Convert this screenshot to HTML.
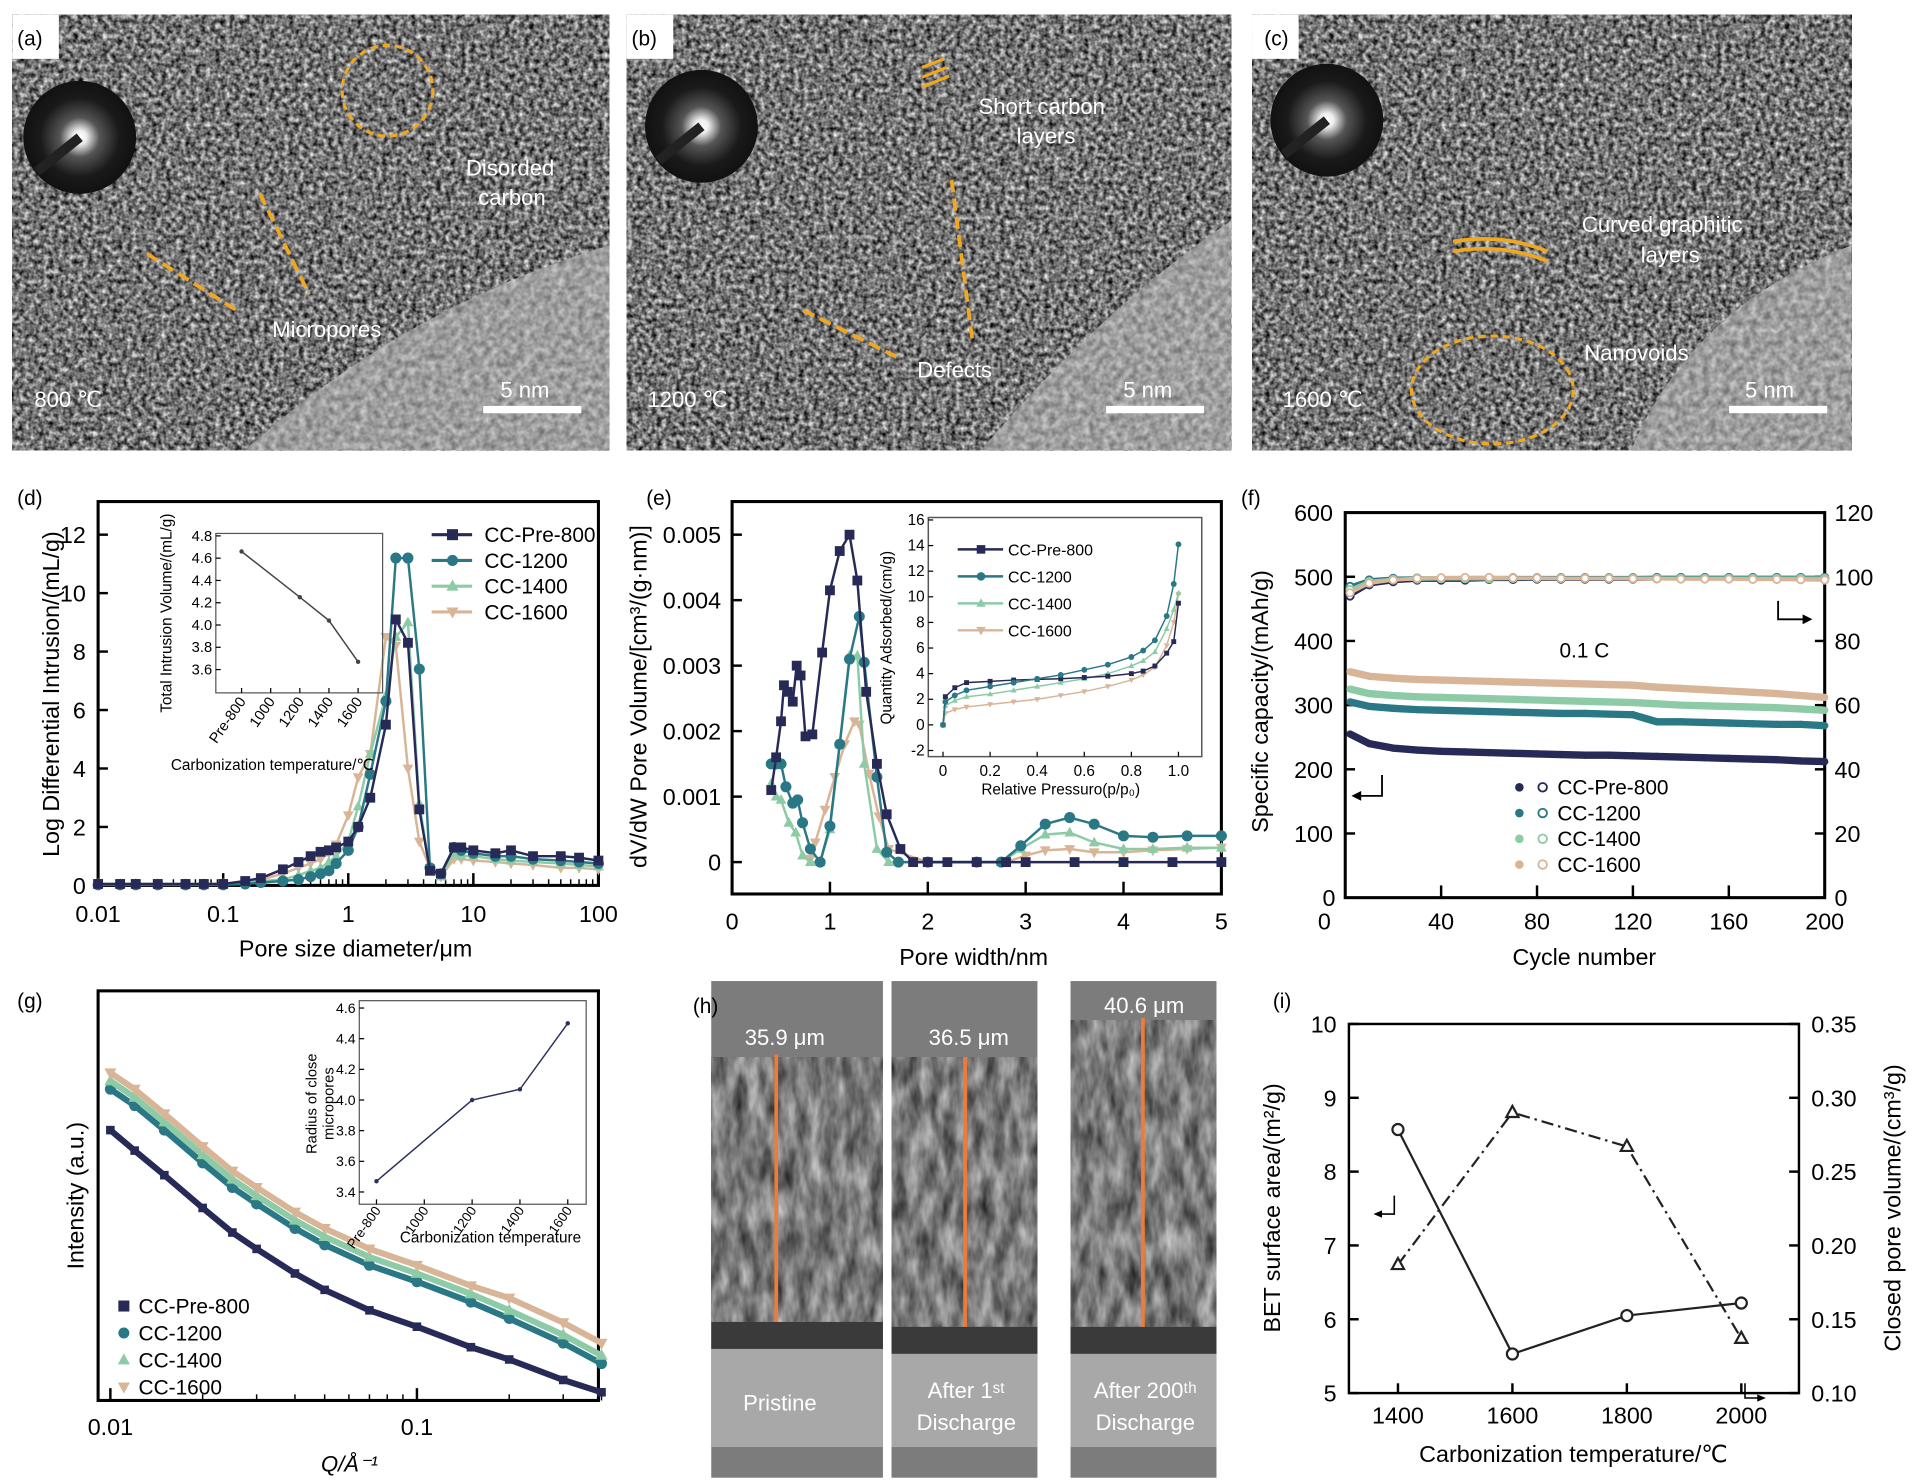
<!DOCTYPE html>
<html><head><meta charset="utf-8">
<style>
html,body{margin:0;padding:0;background:#fff;}
svg{display:block;font-family:"Liberation Sans",Arial,sans-serif;}
</style></head>
<body>
<svg id="fig" width="1913" height="1482" viewBox="0 0 1560 1208.5" preserveAspectRatio="none" xmlns="http://www.w3.org/2000/svg">
<defs>
<filter id="tem" x="0" y="0" width="100%" height="100%" color-interpolation-filters="sRGB">
<feTurbulence type="fractalNoise" baseFrequency="0.25" numOctaves="2" seed="3"/>
<feColorMatrix type="matrix" values="1.25 0 0 0 -0.17  1.25 0 0 0 -0.17  1.25 0 0 0 -0.17  0 0 0 0 1"/>
</filter>
<filter id="tem2" x="0" y="0" width="100%" height="100%" color-interpolation-filters="sRGB">
<feTurbulence type="fractalNoise" baseFrequency="0.18" numOctaves="2" seed="9"/>
<feColorMatrix type="matrix" values="0.5 0 0 0 0.37  0.5 0 0 0 0.37  0.5 0 0 0 0.37  0 0 0 0 1"/>
</filter>
<filter id="sem" x="0" y="0" width="100%" height="100%" color-interpolation-filters="sRGB">
<feTurbulence type="fractalNoise" baseFrequency="0.1 0.035" numOctaves="3" seed="7"/>
<feColorMatrix type="matrix" values="0.8 0 0 0 0.08  0.8 0 0 0 0.08  0.8 0 0 0 0.08  0 0 0 0 1"/>
</filter>
<radialGradient id="diff"><stop offset="0" stop-color="#fff"/><stop offset="0.12" stop-color="#eee"/><stop offset="0.35" stop-color="#555"/><stop offset="0.7" stop-color="#1a1a1a"/><stop offset="1" stop-color="#111"/></radialGradient>
<clipPath id="clipA"><path d="M200,367 Q330,250 497,200 L497,367 Z"/></clipPath>
<clipPath id="clipB"><path d="M800,367 Q900,250 1004,180 L1004,367 Z"/></clipPath>
<clipPath id="clipC"><path d="M1330,367 Q1380,250 1510,200 L1510,367 Z"/></clipPath>
</defs>

<!-- TEM panels -->
<g>
<rect x="10" y="12" width="487" height="355" filter="url(#tem)"/>
<g clip-path="url(#clipA)"><rect x="10" y="12" width="487" height="355" filter="url(#tem2)"/></g>
<circle cx="65" cy="112" r="46" fill="url(#diff)"/>
<line x1="65" y1="112" x2="30" y2="140" stroke="#222" stroke-width="8"/>
<rect x="10" y="12" width="38" height="36" fill="#fff"/>
<text x="14" y="37" font-size="17">(a)</text>
<circle cx="316" cy="74" r="37" fill="none" stroke="#f0a820" stroke-width="2.5" stroke-dasharray="6,4"/>
<line x1="212" y1="158" x2="252" y2="240" stroke="#f0a820" stroke-width="3" stroke-dasharray="10,5"/>
<line x1="120" y1="207" x2="196" y2="255" stroke="#f0a820" stroke-width="3" stroke-dasharray="10,5"/>
<text x="380" y="143" font-size="18" fill="#fff">Disorded</text>
<text x="390" y="167" font-size="18" fill="#fff">carbon</text>
<text x="222" y="275" font-size="18" fill="#fff">Micropores</text>
<text x="28" y="332" font-size="18" fill="#fff">800 ℃</text>
<line x1="394" y1="334" x2="474" y2="334" stroke="#fff" stroke-width="6"/>
<text x="408" y="324" font-size="18" fill="#fff">5 nm</text>
</g>
<g>
<rect x="511" y="12" width="493" height="355" filter="url(#tem)"/>
<g clip-path="url(#clipB)"><rect x="511" y="12" width="493" height="355" filter="url(#tem2)"/></g>
<circle cx="572" cy="103" r="46" fill="url(#diff)"/>
<line x1="572" y1="103" x2="537" y2="131" stroke="#222" stroke-width="8"/>
<rect x="511" y="12" width="38" height="36" fill="#fff"/>
<text x="515" y="37" font-size="17">(b)</text>
<text x="798" y="93" font-size="18" fill="#fff">Short carbon</text>
<text x="829" y="117" font-size="18" fill="#fff">layers</text>
<path d="M752,55 L770,48 M752,63 L772,55 M752,71 L774,62" stroke="#f0a820" stroke-width="2.5"/>
<line x1="776" y1="147" x2="793" y2="278" stroke="#f0a820" stroke-width="3" stroke-dasharray="10,5"/>
<line x1="655" y1="253" x2="735" y2="293" stroke="#f0a820" stroke-width="3" stroke-dasharray="10,5"/>
<text x="748" y="308" font-size="18" fill="#fff">Defects</text>
<text x="528" y="332" font-size="18" fill="#fff">1200 ℃</text>
<line x1="902" y1="334" x2="982" y2="334" stroke="#fff" stroke-width="6"/>
<text x="916" y="324" font-size="18" fill="#fff">5 nm</text>
</g>
<g>
<rect x="1021" y="12" width="489" height="355" filter="url(#tem)"/>
<g clip-path="url(#clipC)"><rect x="1021" y="12" width="489" height="355" filter="url(#tem2)"/></g>
<circle cx="1082" cy="98" r="46" fill="url(#diff)"/>
<line x1="1082" y1="98" x2="1047" y2="126" stroke="#222" stroke-width="8"/>
<rect x="1021" y="12" width="38" height="36" fill="#fff"/>
<text x="1031" y="37" font-size="17">(c)</text>
<text x="1290" y="189" font-size="18" fill="#fff">Curved graphitic</text>
<text x="1338" y="214" font-size="18" fill="#fff">layers</text>
<path d="M1185,197 Q1225,190 1262,205 M1185,205 Q1225,198 1262,213" fill="none" stroke="#f0a820" stroke-width="3"/>
<ellipse cx="1217" cy="318" rx="66" ry="44" fill="none" stroke="#f0a820" stroke-width="2.5" stroke-dasharray="6,4"/>
<text x="1292" y="294" font-size="18" fill="#fff">Nanovoids</text>
<text x="1046" y="332" font-size="18" fill="#fff">1600 ℃</text>
<line x1="1410" y1="334" x2="1490" y2="334" stroke="#fff" stroke-width="6"/>
<text x="1423" y="324" font-size="18" fill="#fff">5 nm</text>
</g>

<!-- SEM panel h -->
<g>
<g>
<rect x="580" y="800" width="140" height="405" fill="#7c7c7c"/>
<rect x="580" y="862" width="140" height="216" filter="url(#sem)"/>
<rect x="580" y="1078" width="140" height="22" fill="#3a3a3a"/>
<rect x="580" y="1100" width="140" height="80" fill="#a8a8a8"/>
<line x1="633" y1="860" x2="633" y2="1078" stroke="#f07a3a" stroke-width="3"/>
<text x="640" y="852" font-size="18" fill="#fff" text-anchor="middle">35.9 μm</text>
<text x="636" y="1150" font-size="18" fill="#fff" text-anchor="middle">Pristine</text>
</g>
<g>
<rect x="727" y="800" width="119" height="405" fill="#7c7c7c"/>
<rect x="727" y="862" width="119" height="220" filter="url(#sem)"/>
<rect x="727" y="1082" width="119" height="22" fill="#3a3a3a"/>
<rect x="727" y="1104" width="119" height="76" fill="#a8a8a8"/>
<line x1="787" y1="862" x2="787" y2="1082" stroke="#f07a3a" stroke-width="3"/>
<text x="790" y="852" font-size="18" fill="#fff" text-anchor="middle">36.5 μm</text>
<text x="788" y="1140" font-size="18" fill="#fff" text-anchor="middle">After 1ˢᵗ</text>
<text x="788" y="1166" font-size="18" fill="#fff" text-anchor="middle">Discharge</text>
</g>
<g>
<rect x="873" y="800" width="119" height="405" fill="#7c7c7c"/>
<rect x="873" y="832" width="119" height="250" filter="url(#sem)"/>
<rect x="873" y="1082" width="119" height="22" fill="#3a3a3a"/>
<rect x="873" y="1104" width="119" height="76" fill="#a8a8a8"/>
<line x1="932" y1="830" x2="932" y2="1082" stroke="#f07a3a" stroke-width="3"/>
<text x="933" y="826" font-size="18" fill="#fff" text-anchor="middle">40.6 μm</text>
<text x="934" y="1140" font-size="18" fill="#fff" text-anchor="middle">After 200ᵗʰ</text>
<text x="934" y="1166" font-size="18" fill="#fff" text-anchor="middle">Discharge</text>
</g>
<text x="565" y="826" font-size="17">(h)</text>
</g>
<g id="charts"></g>
</svg>
<script>
// ---- data: panel d ----
const dX=[0.01,0.015,0.02,0.03,0.05,0.07,0.1,0.15,0.2,0.3,0.4,0.5,0.6,0.7,0.8,1,1.2,1.5,2,2.4,3,3.7,4.5,5.5,7,8,10,15,20,30,50,70,100];
const dPre=[0.05,0.05,0.05,0.05,0.05,0.05,0.05,0.15,0.25,0.55,0.8,1.0,1.15,1.2,1.3,1.5,2.0,3.0,5.5,9.1,8.3,2.6,0.5,0.4,1.3,1.3,1.2,1.1,1.2,1.0,1.0,0.95,0.85];
const d1200=[0.02,0.02,0.02,0.02,0.02,0.02,0.02,0.05,0.1,0.15,0.2,0.3,0.4,0.5,0.75,1.2,2.0,3.8,6.3,11.2,11.2,7.4,0.6,0.4,1.3,1.2,1.1,1.0,1.0,0.9,0.85,0.8,0.75];
const d1400=[0.05,0.05,0.05,0.05,0.05,0.05,0.05,0.1,0.15,0.2,0.35,0.5,0.6,0.8,1.0,1.5,2.7,4.5,6.5,8.5,9.0,2.8,0.5,0.3,1.1,1.0,1.0,0.9,0.85,0.8,0.75,0.7,0.65];
const d1600=[0.05,0.05,0.05,0.05,0.05,0.05,0.05,0.1,0.2,0.4,0.6,0.75,0.9,1.1,1.4,2.4,3.7,4.5,8.5,8.2,4.0,1.5,0.6,0.3,0.9,0.9,0.85,0.8,0.75,0.7,0.6,0.6,0.55];
const dInsetX=[800,1200,1400,1600];
const dInsetY=[4.66,4.25,4.04,3.67];
const dYTicks=[0,2,4,6,8,10,12];
const dXTicks=[0.01,0.1,1,10,100];
// ---- data: panel e ----
const ePreX=[0.4,0.45,0.5,0.53,0.57,0.62,0.66,0.7,0.75,0.82,0.92,1.0,1.1,1.2,1.28,1.37,1.48,1.58,1.72,1.85,2.0,2.2,2.5,2.8,3.0,3.5,4.0,4.5,5.0];
const ePreY=[1.1,1.6,2.15,2.7,2.6,2.45,3.0,2.85,1.92,1.95,3.2,4.15,4.75,5.0,4.3,2.6,1.5,0.73,0.2,0,0,0,0,0,0,0,0,0,0];
const e1200X=[0.4,0.45,0.5,0.55,0.62,0.67,0.72,0.8,0.9,1.0,1.1,1.2,1.3,1.35,1.48,1.58,1.7,2.0,2.5,2.75,2.95,3.2,3.45,3.7,4.0,4.3,4.65,5.0];
const e1200Y=[1.5,1.5,1.5,1.15,0.9,0.95,0.6,0.2,0,0.55,1.8,3.1,3.75,3.05,1.3,0.15,0,0,0,0,0.25,0.58,0.68,0.58,0.4,0.38,0.4,0.4];
const e1400X=[0.4,0.45,0.5,0.58,0.65,0.72,0.8,0.9,1.0,1.1,1.2,1.28,1.35,1.48,1.6,2.0,2.5,2.75,2.95,3.2,3.45,3.7,4.0,4.3,4.65,5.0];
const e1400Y=[1.2,1.0,0.95,0.6,0.45,0.1,0,0,0.5,1.8,3.15,3.15,1.5,0.2,0,0,0,0,0.2,0.42,0.45,0.3,0.2,0.2,0.22,0.22];
const e1600X=[0.8,0.85,0.95,1.05,1.15,1.25,1.3,1.4,1.5,1.6,2.0,2.5,2.8,3.0,3.2,3.45,3.7,4.0,4.3,4.65,5.0];
const e1600Y=[0.05,0.3,0.8,1.3,1.8,2.15,2.1,1.35,0.7,0.2,0,0,0,0.1,0.18,0.2,0.15,0.15,0.18,0.2,0.22];
const eYTicks=[0,0.001,0.002,0.003,0.004,0.005];
const eYLabels=["0","0.001","0.002","0.003","0.004","0.005"];
const eXTicks=[0,1,2,3,4,5];
const eInP=[0,0.01,0.05,0.1,0.2,0.3,0.4,0.5,0.6,0.7,0.8,0.85,0.9,0.95,0.98,1.0];
const eInPre=[0,2.2,2.9,3.3,3.4,3.5,3.55,3.6,3.7,3.8,4.0,4.2,4.6,5.6,6.5,9.5];
const eIn1200=[0,1.8,2.3,2.7,3.0,3.3,3.6,3.9,4.3,4.7,5.3,5.8,6.6,8.5,11,14.1];
const eIn1400=[0,1.5,1.9,2.2,2.4,2.7,3.0,3.3,3.6,4.0,4.6,5.0,5.7,7.5,9,10.3];
const eIn1600=[0,0.9,1.2,1.4,1.6,1.8,2.0,2.3,2.6,3.0,3.5,3.9,4.5,6.2,8,10.2];
const eInYTicks=[-2,0,2,4,6,8,10,12,14,16];
const eInXTicks=[0,0.2,0.4,0.6,0.8,1.0];
// ---- data: panel f ----
const fCycles=[2,10,20,30,40,50,60,70,80,90,100,110,120,130,140,150,160,170,180,190,200];
const fPre=[255,240,233,230,228,227,226,225,224,223,222,222,221,220,219,218,217,216,215,213,212];
const f1200=[305,298,295,293,292,291,290,289,288,287,287,286,285,274,274,273,272,271,270,270,268];
const f1400=[325,318,315,313,312,311,310,309,308,307,306,305,304,302,300,299,298,297,296,294,292];
const f1600=[352,345,342,340,339,338,337,336,335,334,333,332,331,328,326,324,322,320,318,315,312];
const fCEPre=[94,97.5,98.5,99,99,99,99.2,99.2,99.3,99.3,99.3,99.3,99.3,99.4,99.4,99.4,99.4,99.4,99.4,99.4,99.4];
const fCE1200=[97,99,99.5,99.6,99.6,99.6,99.7,99.7,99.7,99.7,99.7,99.7,99.7,99.8,99.8,99.8,99.8,99.8,99.8,99.8,99.8];
const fCE1400=[96,98.5,99.2,99.3,99.4,99.4,99.4,99.5,99.5,99.5,99.5,99.5,99.5,99.5,99.5,99.5,99.5,99.5,99.5,99.5,99.5];
const fCE1600=[95,98,99,99.5,99.7,99.8,99.8,99.6,99.6,99.5,99.5,99.5,99.4,99.4,99.3,99.3,99.3,99.2,99.2,99.1,99];
const fYTicks=[100,200,300,400,500,600];
const fY2Ticks=[0,20,40,60,80,100,120];
const fXTicks=[0,40,80,120,160,200];
// ---- data: panel g ----
const gQ=[0.01,0.012,0.015,0.02,0.025,0.03,0.04,0.05,0.07,0.1,0.15,0.2,0.3,0.4];
const gPre=[66,61,55,47,41,37,31,27,22,18,13,10,5,2];
const g1200=[76,72,66,58,52,48,42,38,33,29,24,20,14,9];
const g1400=[78,74,68,60,54,50,44,40,35,31,26,22,16,11];
const g1600=[80,76,70,62,56,52,46,42,37,33,28,25,19,14];
const gInX=[800,1200,1400,1600];
const gInY=[3.47,4.0,4.07,4.5];
const gInYTicks=[3.4,3.6,3.8,4.0,4.2,4.4,4.6];
// ---- data: panel i ----
const iTemp=[1400,1600,1800,2000];
const iBET=[8.57,5.53,6.05,6.22];
const iClosed=[0.187,0.29,0.267,0.137];
const iYTicks=[5,6,7,8,9,10];
const iY2Ticks=[0.10,0.15,0.20,0.25,0.30,0.35];

const NS="http://www.w3.org/2000/svg";
const root=document.getElementById('charts');
function mk(parent,tag,attrs,text){const e=document.createElementNS(NS,tag);for(const k in attrs)e.setAttribute(k,attrs[k]);if(text!==undefined)e.textContent=text;parent.appendChild(e);return e;}
function lin(d0,d1,r0,r1){return v=>r0+(v-d0)/(d1-d0)*(r1-r0);}
function logs(d0,d1,r0,r1){return v=>r0+(Math.log10(v)-Math.log10(d0))/(Math.log10(d1)-Math.log10(d0))*(r1-r0);}
function marker(g,type,x,y,s,fill,stroke){
  let e;
  if(type==='sq') e=mk(g,'rect',{x:x-s,y:y-s,width:2*s,height:2*s,fill:fill,stroke:stroke});
  else if(type==='ci') e=mk(g,'circle',{cx:x,cy:y,r:s,fill:fill,stroke:stroke});
  else if(type==='tu') e=mk(g,'polygon',{points:`${x},${y-s*1.2} ${x-s*1.1},${y+s*0.8} ${x+s*1.1},${y+s*0.8}`,fill:fill,stroke:stroke});
  else e=mk(g,'polygon',{points:`${x},${y+s*1.2} ${x-s*1.1},${y-s*0.8} ${x+s*1.1},${y-s*0.8}`,fill:fill,stroke:stroke});
  
  
  return e;
}
function series(parent,xs,ys,sx,sy,color,type,s,name,sw){
  const g=mk(parent,'g',{});
  
  
  const pl=mk(g,'polyline',{points:xs.map((x,i)=>sx(x)+','+sy(ys[i])).join(' '),fill:'none',stroke:color,'stroke-width':sw||2});
  
  
  if(type) xs.forEach((x,i)=>marker(g,type,sx(x),sy(ys[i]),s,color,'none'));
  return g;
}
function box(g,x0,y0,x1,y1,w,c){const r=mk(g,'rect',{x:x0,y:y0,width:x1-x0,height:y1-y0,fill:'none',stroke:c||'#000','stroke-width':w||2.5});}
function txt(g,x,y,s,size,anchor,name,extra){const t=mk(g,'text',Object.assign({x:x,y:y,'font-size':size,'text-anchor':anchor||'middle'},extra||{}),s);return t;}
function tk(g,x1,y1,x2,y2,w){const l=mk(g,'line',{x1:x1,y1:y1,x2:x2,y2:y2,stroke:'#000','stroke-width':w||2});}
const C={pre:'#272a57',c12:'#2a7785',c14:'#8ccba6',c16:'#d8b596'};

// ===== Panel d =====
(function(){
  const g=mk(root,'g',{});
  
  
  txt(g,14,412,'(d)',17,'start','panel-label-d');
  const sx=logs(0.01,100,80,488), sy=lin(0,12,722,436);
  box(g,80,409,488,722);
  dYTicks.forEach(v=>{tk(g,80,sy(v),88,sy(v));txt(g,70,sy(v)+7,String(v),19,'end','y-tick-label');});
  dXTicks.forEach(v=>{tk(g,sx(v),722,sx(v),712);txt(g,sx(v),752,String(v),19,'middle','x-tick-label');});
  for(let d=-2;d<2;d++)for(let m=2;m<10;m++){const x=sx(m*Math.pow(10,d));tk(g,x,722,x,717,1.2);}
  txt(g,290,780,'Pore size diameter/μm',19,'middle','x-axis-title');
  txt(g,0,0,'Log Differential Intrusion/(mL/g)',19,'middle','y-axis-title',{transform:'translate(48,566) rotate(-90)'});
  series(g,dX,d1600,sx,sy,C.c16,'td',4,'series-cc-1600');
  series(g,dX,d1400,sx,sy,C.c14,'tu',4,'series-cc-1400');
  series(g,dX,d1200,sx,sy,C.c12,'ci',4.5,'series-cc-1200');
  series(g,dX,dPre,sx,sy,C.pre,'sq',4,'series-cc-pre-800');
  const names=['CC-Pre-800','CC-1200','CC-1400','CC-1600'],cols=[C.pre,C.c12,C.c14,C.c16],ty=['sq','ci','tu','td'];
  names.forEach((n,i)=>{const y=436+i*21;const lg=mk(g,'g',{});
    mk(lg,'line',{x1:352,y1:y,x2:385,y2:y,stroke:cols[i],'stroke-width':2.5});marker(lg,ty[i],369,y,4.5,cols[i],'none');
    txt(lg,395,y+6,n,17,'start','legend-label');});
  const ig=mk(g,'g',{});
  
  
  const ix=lin(800,1600,197,292), iy=lin(3.6,4.8,546,437);
  box(ig,176,435,312,565,1,'#555');
  [3.6,3.8,4.0,4.2,4.4,4.6,4.8].forEach(v=>{tk(ig,176,iy(v),180,iy(v),1);txt(ig,173,iy(v)+4,v.toFixed(1),12,'end','inset-y-tick');});
  [800,1000,1200,1400,1600].forEach((v,i)=>{tk(ig,ix(v),565,ix(v),561,1);txt(ig,0,0,i===0?'Pre-800':String(v),12,'end','inset-x-tick',{transform:`translate(${ix(v)+4},${572}) rotate(-55)`});});
  series(ig,dInsetX,dInsetY,ix,iy,'#444','ci',1.8,'inset-series',1.2);
  txt(ig,222,628,'Carbonization temperature/℃',12.5,'middle','inset-x-title');
  txt(ig,0,0,'Total Intrusion Volume/(mL/g)',12.5,'middle','inset-y-title',{transform:'translate(140,500) rotate(-90)'});
})();

// ===== Panel e =====
(function(){
  const g=mk(root,'g',{});
  
  
  txt(g,527,412,'(e)',17,'start','panel-label-e');
  const sx=lin(0,5,597,996), sy=lin(0,0.005,703,436);
  box(g,597,409,996,729);
  eYTicks.forEach((v,i)=>{tk(g,597,sy(v),605,sy(v));txt(g,588,sy(v)+7,eYLabels[i],19,'end','y-tick-label');});
  eXTicks.forEach(v=>{tk(g,sx(v),729,sx(v),719);txt(g,sx(v),758,String(v),19,'middle','x-tick-label');});
  txt(g,794,787,'Pore width/nm',19,'middle','x-axis-title');
  txt(g,0,0,'dV/dW Pore Volume/[cm³/(g·nm)]',19,'middle','y-axis-title',{transform:'translate(527,568) rotate(-90)'});
  const f=a=>a.map(v=>v*0.001);
  series(g,e1600X,f(e1600Y),sx,sy,C.c16,'td',4,'series-cc-1600');
  series(g,e1400X,f(e1400Y),sx,sy,C.c14,'tu',4,'series-cc-1400');
  series(g,e1200X,f(e1200Y),sx,sy,C.c12,'ci',4.5,'series-cc-1200');
  series(g,ePreX,f(ePreY),sx,sy,C.pre,'sq',4,'series-cc-pre-800');
  const ig=mk(g,'g',{});
  
  
  const ix=lin(0,1,769,961), iy=lin(-2,16,612,424);
  box(ig,757,422,980,617,1.2,'#555');
  eInYTicks.forEach(v=>{tk(ig,757,iy(v),761,iy(v),1);txt(ig,754,iy(v)+4,String(v),12.5,'end','inset-y-tick');});
  eInXTicks.forEach(v=>{tk(ig,ix(v),617,ix(v),613,1);txt(ig,ix(v),633,v===0?'0':v.toFixed(1),12.5,'middle','inset-x-tick');});
  txt(ig,865,648,'Relative Pressuro(p/p₀)',12.5,'middle','inset-x-title');
  txt(ig,0,0,'Quantity Adsorbed/(cm/g)',12.5,'middle','inset-y-title',{transform:'translate(727,520) rotate(-90)'});
  series(ig,eInP,eIn1600,ix,iy,C.c16,'td',2.2,'inset-cc-1600',1.2);
  series(ig,eInP,eIn1400,ix,iy,C.c14,'tu',2.2,'inset-cc-1400',1.2);
  series(ig,eInP,eInPre,ix,iy,C.pre,'sq',2,'inset-cc-pre-800',1.2);
  series(ig,eInP,eIn1200,ix,iy,C.c12,'ci',2.4,'inset-cc-1200',1.2);
  const names=['CC-Pre-800','CC-1200','CC-1400','CC-1600'],cols=[C.pre,C.c12,C.c14,C.c16],ty=['sq','ci','tu','td'];
  names.forEach((n,i)=>{const y=448+i*22;const lg=mk(ig,'g',{});
    mk(lg,'line',{x1:781,y1:y,x2:818,y2:y,stroke:cols[i],'stroke-width':2});marker(lg,ty[i],800,y,3.5,cols[i],'none');
    txt(lg,822,y+5,n,13,'start','legend-label');});
})();

// ===== Panel f =====
(function(){
  const g=mk(root,'g',{});
  
  
  txt(g,1012,412,'(f)',17,'start','panel-label-f');
  const sx=lin(0,200,1097,1488), sy=lin(0,600,732,418), sy2=lin(0,120,732,418);
  box(g,1097,418,1488,732);
  txt(g,1089,739,'0',19,'end','y-tick-label');
  fYTicks.forEach(v=>{tk(g,1097,sy(v),1105,sy(v));txt(g,1087,sy(v)+7,String(v),19,'end','y-tick-label');});
  fY2Ticks.forEach(v=>{tk(g,1488,sy2(v),1480,sy2(v));txt(g,1496,sy2(v)+7,String(v),19,'start','y2-tick-label');});
  fXTicks.forEach(v=>{if(v>0)tk(g,sx(v),732,sx(v),722);txt(g,v===0?1080:sx(v),758,String(v),19,'middle','x-tick-label');});
  txt(g,1292,787,'Cycle number',19,'middle','x-axis-title');
  txt(g,0,0,'Specific capacity/(mAh/g)',19,'middle','y-axis-title',{transform:'translate(1034,572) rotate(-90)'});
  const sets=[[fPre,fCEPre,C.pre,'cc-pre-800'],[f1200,fCE1200,C.c12,'cc-1200'],[f1400,fCE1400,C.c14,'cc-1400'],[f1600,fCE1600,C.c16,'cc-1600']];
  sets.forEach(s=>{series(g,fCycles,s[0],sx,sy,s[2],'ci',3,'capacity-'+s[3],6);});
  sets.forEach(s=>{const gg=series(g,fCycles,s[1],sx,sy2,s[2],null,0,'ce-'+s[3],3);
    fCycles.forEach((c,i)=>{const m=marker(gg,'ci',sx(c),sy2(s[1][i]),3,'#fff',s[2]);m.setAttribute('stroke-width','1.5');});});
  txt(g,1292,536,'0.1 C',17,'middle','rate-annotation');
  mk(g,'path',{d:'M1450,490 L1450,505 L1476,505',fill:'none',stroke:'#000','stroke-width':1.5});
  mk(g,'polygon',{points:'1478,505 1470,501 1470,509',fill:'#000'});
  mk(g,'path',{d:'M1127,632 L1127,649 L1104,649',fill:'none',stroke:'#000','stroke-width':1.5});
  mk(g,'polygon',{points:'1102,649 1110,645 1110,653',fill:'#000'});
  const names=['CC-Pre-800','CC-1200','CC-1400','CC-1600'],cols=[C.pre,C.c12,C.c14,C.c16];
  names.forEach((n,i)=>{const y=642+i*21;const lg=mk(g,'g',{});
    marker(lg,'ci',1239,y,3.5,cols[i],'none');const o=marker(lg,'ci',1258,y,3.5,'#fff',cols[i]);o.setAttribute('stroke-width','1.5');
    txt(lg,1270,y+6,n,17,'start','legend-label');});
})();

// ===== Panel g =====
(function(){
  const g=mk(root,'g',{});
  
  
  txt(g,14,822,'(g)',17,'start','panel-label-g');
  const sx=logs(0.01,0.1,90,340), sy=lin(0,100,1142,808);
  box(g,80,808,488,1142);
  [0.01,0.1].forEach(v=>{tk(g,sx(v),1142,sx(v),1132);txt(g,sx(v),1170,String(v),19,'middle','x-tick-label');});
  [0.02,0.03,0.04,0.05,0.06,0.07,0.08,0.09,0.2,0.3,0.4].forEach(v=>tk(g,sx(v),1142,sx(v),1137,1.2));
  txt(g,285,1200,'Q/Å⁻¹',18,'middle','x-axis-title',{'font-style':'italic'});
  txt(g,0,0,'Intensity (a.u.)',19,'middle','y-axis-title',{transform:'translate(68,975) rotate(-90)'});
  series(g,gQ,g1200,sx,sy,C.c12,'ci',4.5,'series-cc-1200',5);
  series(g,gQ,g1400,sx,sy,C.c14,'tu',4.5,'series-cc-1400',5);
  series(g,gQ,g1600,sx,sy,C.c16,'td',4.5,'series-cc-1600',5);
  series(g,gQ,gPre,sx,sy,C.pre,'sq',3.5,'series-cc-pre-800',5);
  const names=['CC-Pre-800','CC-1200','CC-1400','CC-1600'],cols=[C.pre,C.c12,C.c14,C.c16],ty=['sq','ci','tu','td'];
  names.forEach((n,i)=>{const y=1065+i*22;const lg=mk(g,'g',{});
    marker(lg,ty[i],101,y,4.5,cols[i],'none');txt(lg,113,y+6,n,17,'start','legend-label');});
  const ig=mk(g,'g',{});
  
  
  const ix=lin(800,1600,307,463), iy=lin(3.4,4.6,972,822);
  box(ig,293,816,478,982,1,'#555');
  gInYTicks.forEach(v=>{tk(ig,293,iy(v),297,iy(v),1);txt(ig,290,iy(v)+4,v.toFixed(1),11.5,'end','inset-y-tick');});
  [800,1000,1200,1400,1600].forEach((v,i)=>{tk(ig,ix(v),982,ix(v),978,1);txt(ig,0,0,i===0?'Pre-800':String(v),11,'end','inset-x-tick',{transform:`translate(${ix(v)+4},${987}) rotate(-55)`});});
  series(ig,gInX,gInY,ix,iy,'#2a3060','ci',1.8,'inset-series',1.2);
  txt(ig,400,1013,'Carbonization temperature',12.5,'middle','inset-x-title');
  txt(ig,0,0,'Radius of close',12,'middle','inset-y-title',{transform:'translate(258,900) rotate(-90)'});
  txt(ig,0,0,'micropores',12,'middle','inset-y-title',{transform:'translate(272,900) rotate(-90)'});
})();

// ===== Panel i =====
(function(){
  const g=mk(root,'g',{});
  
  
  txt(g,1038,822,'(i)',17,'start','panel-label-i');
  const sx=lin(1400,2000,1140,1420), sy=lin(5,10,1136,835), sy2=lin(0.10,0.35,1136,835);
  box(g,1100,835,1467,1136,2);
  iYTicks.forEach(v=>{tk(g,1100,sy(v),1108,sy(v));txt(g,1090,sy(v)+7,String(v),19,'end','y-tick-label');});
  iY2Ticks.forEach(v=>{tk(g,1467,sy2(v),1459,sy2(v));txt(g,1477,sy2(v)+7,v.toFixed(2),19,'start','y2-tick-label');});
  iTemp.forEach(v=>{tk(g,sx(v),1136,sx(v),1128);txt(g,sx(v),1161,String(v),19,'middle','x-tick-label');});
  txt(g,1283,1192,'Carbonization temperature/℃',19,'middle','x-axis-title');
  txt(g,0,0,'BET surface area/(m²/g)',19,'middle','y-axis-title',{transform:'translate(1044,985) rotate(-90)'});
  txt(g,0,0,'Closed pore volume/(cm³/g)',19,'middle','y2-axis-title',{transform:'translate(1550,985) rotate(-90)'});
  const a=series(g,iTemp,iBET,sx,sy,'#222',null,0,'series-bet',1.8);
  iTemp.forEach((t,i)=>{const m=marker(a,'ci',sx(t),sy(iBET[i]),4.5,'#fff','#222');m.setAttribute('stroke-width','1.8');});
  const b=series(g,iTemp,iClosed,sx,sy2,'#222',null,0,'series-closed-pore',1.8);
  b.firstChild.setAttribute('stroke-dasharray','10,4,2,4');
  iTemp.forEach((t,i)=>{const m=marker(b,'tu',sx(t),sy2(iClosed[i]),4.5,'#fff','#222');m.setAttribute('stroke-width','1.8');});
  mk(g,'path',{d:'M1137,975 L1137,990 L1122,990',fill:'none',stroke:'#000','stroke-width':1.3});
  mk(g,'polygon',{points:'1120,990 1127,987 1127,993',fill:'#000'});
  mk(g,'path',{d:'M1423,1128 L1423,1140 L1438,1140',fill:'none',stroke:'#000','stroke-width':1.3});
  mk(g,'polygon',{points:'1440,1140 1433,1137 1433,1143',fill:'#000'});
})();
</script>
</body></html>
